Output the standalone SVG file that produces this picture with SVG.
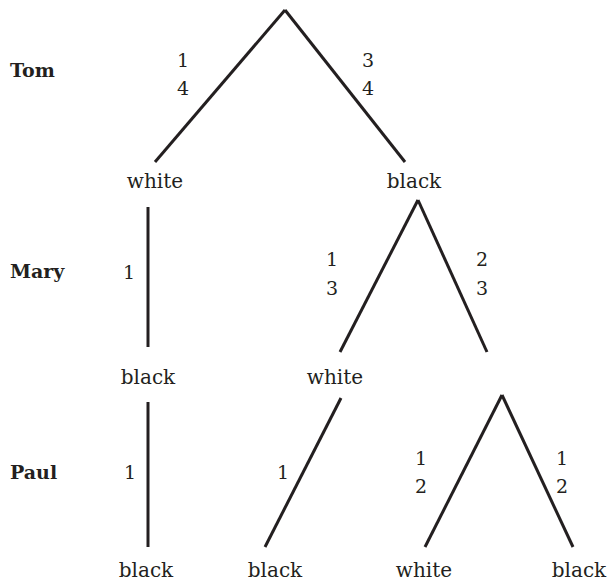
<svg xmlns="http://www.w3.org/2000/svg" width="610" height="584" viewBox="0 0 610 584">
<style>
.e{stroke:#231f20;stroke-width:3;fill:none}
text{font-family:"DejaVu Serif","Liberation Serif",serif;fill:#231f20;text-anchor:middle}
.n{font-size:20px}
.p{font-size:19px}
.h{font-size:19px;font-weight:bold;text-anchor:start}
</style>
<rect width="610" height="584" fill="#fff"/>
<g id="players">
<text class="h" x="10" y="77">Tom</text>
<text class="h" x="10" y="278">Mary</text>
<text class="h" x="10" y="479">Paul</text>
</g>
<g id="connectors">
<line class="e" x1="285" y1="10" x2="155" y2="162"/>
<line class="e" x1="285" y1="10" x2="405" y2="162"/>
<line class="e" x1="148" y1="207" x2="148" y2="347"/>
<line class="e" x1="418" y1="200" x2="340" y2="352"/>
<line class="e" x1="418" y1="200" x2="487" y2="352"/>
<line class="e" x1="148" y1="402" x2="148" y2="547"/>
<line class="e" x1="341" y1="398" x2="265" y2="547"/>
<line class="e" x1="502" y1="395" x2="425" y2="547"/>
<line class="e" x1="502" y1="395" x2="573" y2="547"/>
</g>
<g id="probs">
<text class="p" x="183" y="67">1</text><text class="p" x="183" y="95">4</text>
<text class="p" x="368" y="67">3</text><text class="p" x="368" y="95">4</text>
<text class="p" x="129" y="279">1</text>
<text class="p" x="332" y="266">1</text><text class="p" x="332" y="295">3</text>
<text class="p" x="482" y="266">2</text><text class="p" x="482" y="295">3</text>
<text class="p" x="130" y="479">1</text>
<text class="p" x="283" y="479">1</text>
<text class="p" x="421" y="465">1</text><text class="p" x="421" y="493">2</text>
<text class="p" x="562" y="465">1</text><text class="p" x="562" y="493">2</text>
</g>
<g id="n1"><text class="n" x="155" y="188">white</text></g>
<g id="n2"><text class="n" x="414" y="188">black</text></g>
<g id="n3"><text class="n" x="148" y="384">black</text></g>
<g id="n4"><text class="n" x="335" y="384">white</text></g>
<g id="n5"><text class="n" x="146" y="577">black</text></g>
<g id="n6"><text class="n" x="275" y="577">black</text></g>
<g id="n7"><text class="n" x="424" y="577">white</text></g>
<g id="n8"><text class="n" x="579" y="577">black</text></g>
</svg>
